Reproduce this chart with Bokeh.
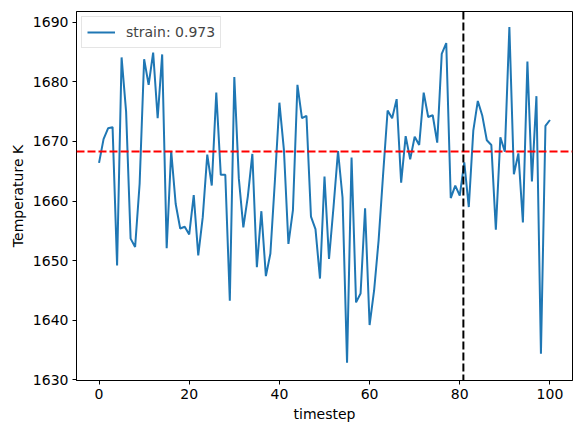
from bokeh.plotting import figure
from bokeh.models import Span, Range1d, FixedTicker, Legend, LegendItem
from bokeh.embed import file_html
from bokeh.resources import INLINE

timestep = list(range(101))
temperature = [
    1666.4, 1670.4, 1672.2, 1672.4, 1649.2, 1684.1, 1675.0, 1653.7, 1652.3, 1662.9,
    1683.8, 1679.5, 1684.9, 1673.9, 1684.6, 1652.1, 1668.4, 1659.5, 1655.4, 1655.7,
    1654.4, 1661.0, 1650.9, 1657.3, 1667.8, 1662.6, 1678.2, 1664.4, 1664.4, 1643.3,
    1680.8, 1663.8, 1655.6, 1660.8, 1667.9, 1648.9, 1658.3, 1647.4, 1651.2, 1663.4,
    1676.5, 1668.6, 1652.8, 1658.5, 1679.5, 1673.9, 1674.3, 1657.4, 1655.3, 1647.0,
    1664.1, 1650.3, 1659.0, 1668.4, 1660.6, 1632.9, 1667.3, 1643.0, 1644.5, 1658.8,
    1639.2, 1645.0, 1653.4, 1664.5, 1675.2, 1673.9, 1677.1, 1663.1, 1670.9, 1667.0,
    1670.8, 1669.4, 1678.2, 1674.1, 1674.4, 1669.8, 1684.7, 1686.5, 1660.5, 1662.6,
    1660.9, 1666.5, 1659.0, 1671.8, 1676.8, 1674.3, 1670.2, 1669.4, 1655.2, 1670.7,
    1668.3, 1689.2, 1664.5, 1668.0, 1656.4, 1683.4, 1663.3, 1677.6, 1634.4, 1672.6,
    1673.6,
]
mean_temperature = 1668.3
marker_timestep = 80.8
legend_label = "strain: 0.973"
x_ticks = [0, 20, 40, 60, 80, 100]
y_ticks = [1630, 1640, 1650, 1660, 1670, 1680, 1690]

FONT = "DejaVu Sans"

p = figure(width=575, height=425, output_backend="svg", toolbar_location=None,
           x_range=Range1d(-5, 105), y_range=Range1d(1629.9, 1691.8),
           min_border_left=76, min_border_right=3, min_border_top=11, min_border_bottom=45)
p.background_fill_color = "white"
p.border_fill_color = "white"
p.outline_line_color = "black"
p.outline_line_width = 1
p.grid.visible = False

line = p.line(timestep, temperature, line_color="#1f77b4", line_width=2)

p.add_layout(Span(location=mean_temperature, dimension="width", line_color="red",
                  line_dash="8 3", line_width=2))
p.add_layout(Span(location=marker_timestep, dimension="height", line_color="black",
                  line_dash="8 3", line_width=2))

for ax in (p.xaxis[0], p.yaxis[0]):
    ax.major_tick_in = 0
    ax.major_tick_out = 4
    ax.minor_tick_line_color = None
    ax.major_label_text_font = FONT
    ax.major_label_text_font_size = "14px"
    ax.major_label_text_color = "black"
    ax.axis_label_text_font = FONT
    ax.axis_label_text_font_size = "14px"
    ax.axis_label_text_font_style = "normal"
    ax.axis_label_text_color = "black"
    ax.axis_line_color = "black"
    ax.major_tick_line_color = "black"
    ax.major_label_standoff = 4

p.xaxis[0].ticker = FixedTicker(ticks=x_ticks)
p.yaxis[0].ticker = FixedTicker(ticks=y_ticks)
p.xaxis[0].axis_label = "timestep"
p.yaxis[0].axis_label = "Temperature K"
p.xaxis[0].axis_label_standoff = 4
p.yaxis[0].axis_label_standoff = 4

legend = Legend(items=[LegendItem(label=legend_label, renderers=[line])],
                location="top_left")
legend.label_text_font = FONT
legend.label_text_font_size = "14px"
legend.border_line_color = "#cccccc"
legend.border_line_width = 1
legend.padding = 5
legend.margin = 5
legend.glyph_width = 28
legend.label_standoff = 11
legend.spacing = 0
p.add_layout(legend)

open("out.html", "w").write(file_html(p, INLINE))
